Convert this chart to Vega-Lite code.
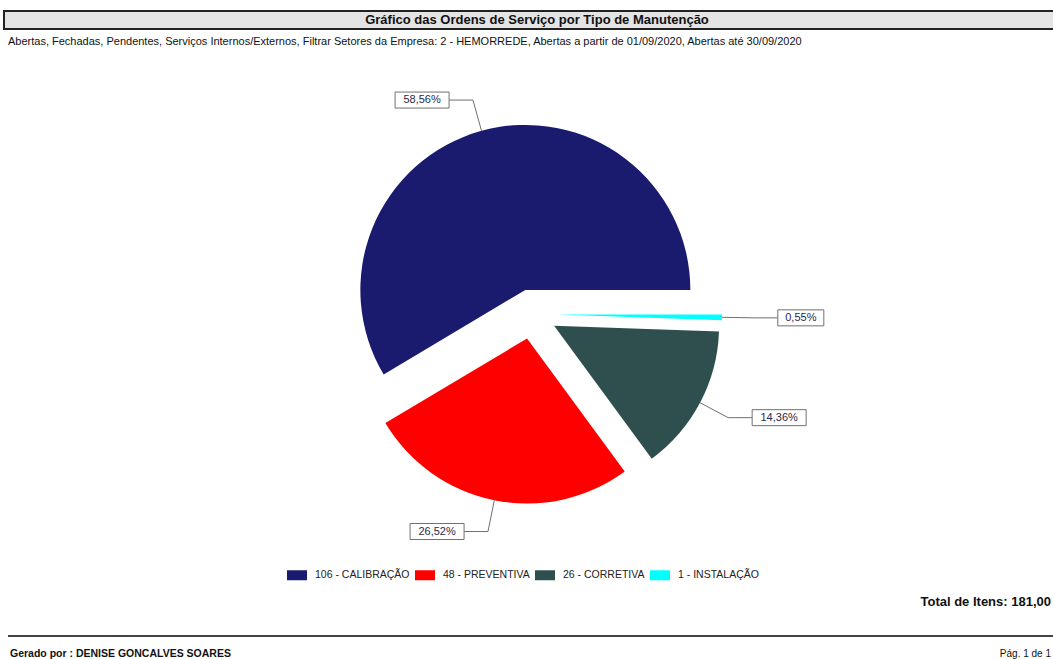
{
  "$schema": "https://vega.github.io/schema/vega-lite/v6.json",
  "width": 1053,
  "height": 659,
  "padding": 0,
  "autosize": {"type": "none"},
  "background": "white",
  "config": {"view": {"stroke": null}, "font": "Liberation Sans"},
  "data": {
    "values": [
      {"tipo": "CALIBRAÇÃO", "qtd": 106},
      {"tipo": "PREVENTIVA", "qtd": 48},
      {"tipo": "CORRETIVA", "qtd": 26},
      {"tipo": "INSTALAÇÃO", "qtd": 1}
    ]
  },
  "transform": [
    {"joinaggregate": [{"op": "sum", "field": "qtd", "as": "total"}]},
    {"stack": "qtd", "groupby": [], "sort": [{"field": "qtd", "order": "ascending"}], "as": ["s0", "s1"]},
    {"calculate": "PI/2 + 2*PI*datum.s0/datum.total", "as": "a0"},
    {"calculate": "PI/2 + 2*PI*datum.s1/datum.total", "as": "a1"},
    {"calculate": "(datum.a0 + datum.a1)/2", "as": "am"},
    {"calculate": "0.1515*sin(datum.am)", "as": "cx"},
    {"calculate": "0.1515*cos(datum.am)", "as": "cy"},
    {"calculate": "1.1515*sin(datum.am)", "as": "p1x"},
    {"calculate": "1.1515*cos(datum.am)", "as": "p1y"},
    {"calculate": "1.345*sin(datum.am)", "as": "p2x"},
    {"calculate": "1.345*cos(datum.am)", "as": "p2y"},
    {"calculate": "sin(datum.am) >= 0 ? 1 : -1", "as": "sgn"},
    {"calculate": "datum.p2x + datum.sgn*0.145", "as": "p3x"},
    {"calculate": "replace(format(100*datum.qtd/datum.total, '.2f'), '.', ',') + '%'", "as": "rotulo"},
    {"calculate": "(8*length(datum.rotulo) + 6)/2/165", "as": "hw"},
    {"calculate": "datum.p3x + datum.sgn*datum.hw", "as": "lx"},
    {"calculate": "datum.lx - datum.hw", "as": "bx0"},
    {"calculate": "datum.lx + datum.hw", "as": "bx1"},
    {"calculate": "datum.p2y - 8/165", "as": "by0"},
    {"calculate": "datum.p2y + 8/165", "as": "by1"},
    {"calculate": "datum.qtd + ' - ' + datum.tipo", "as": "legenda"}
  ],
  "layer": [
    {
      "data": {"values": [{}]},
      "mark": {"type": "rect", "fill": "#e4e4e4", "stroke": "#222", "strokeWidth": 2},
      "encoding": {"x": {"value": 4}, "x2": {"value": 1070}, "y": {"value": 11}, "y2": {"value": 29}}
    },
    {
      "data": {"values": [{}]},
      "mark": {"type": "text", "text": "Gráfico das Ordens de Serviço por Tipo de Manutenção", "fontSize": 13, "fontWeight": "bold", "align": "center", "baseline": "middle", "color": "#111"},
      "encoding": {"x": {"value": 537}, "y": {"value": 20}}
    },
    {
      "data": {"values": [{}]},
      "mark": {"type": "text", "text": "Abertas, Fechadas, Pendentes, Serviços Internos/Externos, Filtrar Setores da Empresa:  2 - HEMORREDE, Abertas a partir de 01/09/2020, Abertas até 30/09/2020", "fontSize": 11, "align": "left", "baseline": "middle", "color": "#111"},
      "encoding": {"x": {"value": 8}, "y": {"value": 42}}
    },
    {
      "mark": {"type": "arc", "radius": 165},
      "encoding": {
        "x": {"field": "cx", "type": "quantitative", "scale": {"domain": [-3.22424, 3.15758], "nice": false, "zero": false}, "axis": null},
        "y": {"field": "cy", "type": "quantitative", "scale": {"domain": [-2.09091, 1.90303], "nice": false, "zero": false}, "axis": null},
        "theta": {"field": "a0", "type": "quantitative", "scale": null, "stack": null},
        "theta2": {"field": "a1"},
        "color": {
          "field": "legenda",
          "type": "nominal",
          "scale": {
            "domain": ["106 - CALIBRAÇÃO", "48 - PREVENTIVA", "26 - CORRETIVA", "1 - INSTALAÇÃO"],
            "range": ["#1a1a6e", "#ff0000", "#2f4f4f", "#00ffff"]
          },
          "legend": {
            "title": null,
            "orient": "none",
            "legendX": 287,
            "legendY": 565,
            "direction": "horizontal",
            "symbolType": "M-1,-0.5H1V0.5H-1Z",
            "symbolSize": 400,
            "symbolStrokeWidth": 0,
            "symbolOpacity": 1,
            "labelFont": "Liberation Sans",
            "labelFontSize": 10.5,
            "labelColor": "#222",
            "labelOffset": 8,
            "columnPadding": 5
          }
        }
      }
    },
    {
      "mark": {"type": "rule", "color": "#707070", "strokeWidth": 1},
      "encoding": {
        "x": {"field": "p1x", "type": "quantitative"},
        "y": {"field": "p1y", "type": "quantitative"},
        "x2": {"field": "p2x"},
        "y2": {"field": "p2y"}
      }
    },
    {
      "mark": {"type": "rule", "color": "#707070", "strokeWidth": 1},
      "encoding": {
        "x": {"field": "p2x", "type": "quantitative"},
        "y": {"field": "p2y", "type": "quantitative"},
        "x2": {"field": "p3x"},
        "y2": {"field": "p2y"}
      }
    },
    {
      "mark": {"type": "rect", "fill": "white", "stroke": "#707070", "strokeWidth": 1},
      "encoding": {
        "x": {"field": "bx0", "type": "quantitative"},
        "x2": {"field": "bx1"},
        "y": {"field": "by0", "type": "quantitative"},
        "y2": {"field": "by1"}
      }
    },
    {
      "mark": {"type": "text", "fontSize": 11, "align": "center", "baseline": "middle", "color": "#2a2a4a"},
      "encoding": {
        "x": {"field": "lx", "type": "quantitative"},
        "y": {"field": "p2y", "type": "quantitative"},
        "text": {"field": "rotulo"}
      }
    },
    {
      "transform": [
        {"aggregate": [{"op": "sum", "field": "qtd", "as": "soma"}]},
        {"calculate": "'Total de Itens: ' + replace(format(datum.soma, '.2f'), '.', ',')", "as": "txt"}
      ],
      "mark": {"type": "text", "fontSize": 13, "fontWeight": "bold", "align": "right", "baseline": "middle", "color": "#111"},
      "encoding": {"x": {"value": 1051}, "y": {"value": 602}, "text": {"field": "txt"}}
    },
    {
      "data": {"values": [{}]},
      "mark": {"type": "rule", "color": "#444", "strokeWidth": 2},
      "encoding": {"x": {"value": 8}, "x2": {"value": 1070}, "y": {"value": 636}}
    },
    {
      "data": {"values": [{}]},
      "mark": {"type": "text", "text": "Gerado por : DENISE GONCALVES SOARES", "fontSize": 10.5, "fontWeight": "bold", "align": "left", "baseline": "middle", "color": "#111"},
      "encoding": {"x": {"value": 10}, "y": {"value": 654}}
    },
    {
      "data": {"values": [{}]},
      "mark": {"type": "text", "text": "Pág. 1 de 1", "fontSize": 10, "align": "right", "baseline": "middle", "color": "#111"},
      "encoding": {"x": {"value": 1051}, "y": {"value": 654}}
    }
  ]
}
